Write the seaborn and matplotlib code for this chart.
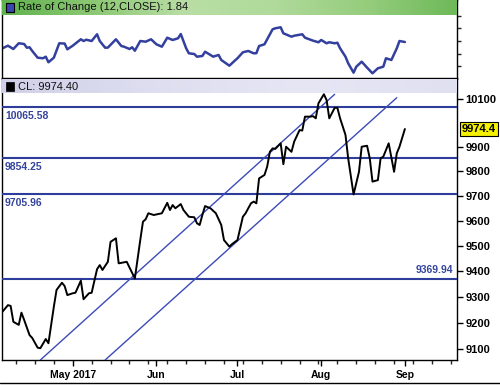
import numpy as np
import pandas as pd
import matplotlib
matplotlib.use("Agg")
import matplotlib.pyplot as plt
import matplotlib.dates as mdates
import matplotlib.transforms as mtransforms
from matplotlib.patches import Rectangle
from matplotlib.lines import Line2D
from matplotlib.ticker import FixedLocator, FixedFormatter, NullLocator
import seaborn as sns

# ---------------- data ----------------
base_date = "2017-05-01"
price_offsets = [-26, -24, -23, -22, -20, -19, -18, -16, -15, -13, -12, -10, -9, -7, -6, -4, -3, -2,
                 0, 1, 3, 4, 6, 7, 9, 10, 11, 13, 14, 16, 17, 20, 21, 23, 25, 26, 27, 28, 30, 33,
                 35, 36, 37, 38, 40, 41, 43, 45, 46, 47, 48, 49, 51, 53, 55, 56, 58, 59, 61, 63,
                 64, 66, 67, 68, 69, 71, 72, 73, 74, 75, 77, 78, 79, 81, 82, 84, 85, 86, 88, 89,
                 90, 91, 93, 94, 95, 97, 98, 99, 101, 102, 104, 106, 107, 109, 110, 111, 113, 114,
                 115, 117, 119, 120, 121, 123]
price_values = [9243, 9268, 9265, 9204, 9192, 9239, 9211, 9153, 9142, 9105, 9103, 9138, 9122, 9262,
                9327, 9355, 9342, 9307,
                9314, 9316, 9363, 9291, 9314, 9316, 9408, 9424, 9405, 9437, 9516, 9530, 9431, 9437,
                9415, 9372, 9523, 9596, 9606, 9630, 9623, 9630,
                9672, 9643, 9663, 9650, 9667, 9643, 9616, 9614, 9590, 9583, 9623, 9659, 9650, 9630,
                9583, 9523, 9497, 9507, 9523, 9616,
                9630, 9670, 9677, 9670, 9771, 9785, 9819, 9880, 9894, 9892, 9915, 9829, 9901, 9880,
                9922, 9970, 9968, 10026, 10026, 10028,
                10019, 10082, 10120, 10096, 10019, 10063, 10063, 10019, 9950, 9853, 9706, 9798, 9901,
                9905, 9853, 9758, 9764, 9853,
                9860, 9915, 9798, 9874, 9901, 9974.4]

roc_offsets = [-26, -24, -22, -20, -18, -17, -16, -15, -13, -11, -10, -9, -7, -5, -3, -2, 0, 3, 4, 5,
               7, 9, 10, 12, 13, 16, 18, 19, 21, 22, 23, 25, 27, 29, 31, 33, 35, 37, 39, 40, 42, 43,
               45, 46, 48, 49, 51, 52, 54, 55, 58, 60, 61, 63, 65, 67, 68, 69, 71, 74, 75, 77, 78,
               81, 82, 85, 86, 89, 91, 92, 94, 95, 97, 98, 99, 101, 102, 104, 105, 107, 109, 111,
               113, 115, 116, 118, 120, 121, 123]
roc_values = [0.85, 1.26, 0.74, 1.64, 1.53, 0.94, 1.01, 0.43, -0.63, -0.72, -0.47, -1.35, -0.63, 1.64,
              1.60, 0.69, 1.26, 2.27, 2.00, 2.20,
              2.00, 3.06, 2.00, 0.94, 0.96, 2.27, 1.21, 1.10, 0.74, 1.01, 0.47, 2.00, 1.89, 2.27,
              1.48, 1.10, 2.52, 2.16, 2.43, 3.10, 0.85, 0.06,
              -0.05, -0.47, -0.36, 0.31, -0.20, -0.47, -0.20, -0.99, -1.89, -1.10, -0.72, 0.22,
              0.43, 0.06, 0.08, 1.21, 1.48, 3.84, 4.00, 4.16, 3.21,
              2.68, 2.83, 3.06, 2.52, 2.05, 1.80, 2.16, 1.64, 1.80, 1.64, 1.73, 0.85, -0.47, -1.51,
              -2.99, -2.05, -1.26, -2.20, -3.09,
              -2.30, -2.05, -0.72, -0.99, 0.85, 2.00, 1.84]

level_values = [10065.58, 9854.25, 9705.96, 9369.94]
level_labels = ["10065.58", "9854.25", "9705.96", "9369.94"]

trend_dates = [("2017-04-19", "2017-08-06"), ("2017-05-13", "2017-08-29")]
trend_prices = [(9058.4, 10119.8), (9058.4, 10105.5)]

price_ticks = [9100, 9200, 9300, 9400, 9500, 9600, 9700, 9800, 9900, 10100]
price_tick_labels = ["9100", "9200", "9300", "9400", "9500", "9600", "9700", "9800", "9900", "10100"]
roc_ticks = [-2, 0, 2, 4, 6]
month_dates = ["2017-05-01", "2017-06-01", "2017-07-01", "2017-08-01", "2017-09-01"]
month_labels = ["May 2017", "Jun", "Jul", "Aug", "Sep"]

last_close = 9974.4
roc_title = "Rate of Change (12,CLOSE): 1.84"
price_title = "CL: 9974.40"

# ---------------- style ----------------
sns.set_style("white")
plt.rcParams["font.family"] = ["Liberation Sans", "DejaVu Sans"]

base = pd.Timestamp(base_date)
price_dates = base + pd.to_timedelta(price_offsets, unit="D")
roc_dates = base + pd.to_timedelta(roc_offsets, unit="D")
df_price = pd.DataFrame({"date": price_dates, "close": price_values})
df_roc = pd.DataFrame({"date": roc_dates, "roc": roc_values})

LEVEL_C = "#2e3c9c"
TREND_C = "#3b4bb8"
ROC_C = "#33409e"
LABEL_C = "#34449c"

W_PX, H_PX = 500, 385
fig = plt.figure(figsize=(W_PX / 100, H_PX / 100), dpi=100)
fig.patch.set_facecolor("white")

L = 2 / W_PX
W = 455 / W_PX
ax_roc = fig.add_axes([L, 1 - 78 / H_PX, W, 78 / H_PX])
ax = fig.add_axes([L, 1 - 360 / H_PX, W, 281 / H_PX])

x0 = mdates.date2num(base) - 26.2
x1 = mdates.date2num(base) + 142.3

# ---------------- ROC panel ----------------
sns.lineplot(data=df_roc, x="date", y="roc", ax=ax_roc, color=ROC_C, lw=1.8, legend=False)
green = np.array([[96, 178, 78], [140, 200, 115], [185, 222, 165], [175, 218, 155], [150, 205, 125],
                  [110, 185, 90]]) / 255.0
gx = np.linspace(0, 1, 256)
grad = np.stack([np.interp(gx, np.linspace(0, 1, len(green)), green[:, i]) for i in range(3)], axis=-1)
ax_roc.imshow(grad[None, :, :], extent=[0, 1, 1 - 15 / 78, 1], transform=ax_roc.transAxes,
              aspect="auto", zorder=3, interpolation="bilinear")
ax_roc.add_patch(Rectangle((4 / 455, 1 - 12 / 78), 8 / 455, 9 / 78, transform=ax_roc.transAxes,
                           facecolor="#3c46b0", edgecolor="black", lw=0.8, zorder=4))
ax_roc.text(16 / 455, 1 - 7.5 / 78, roc_title, transform=ax_roc.transAxes, fontsize=8,
            va="center", ha="left", color="#111111", zorder=5)
ax_roc.set_xlim(x0, x1)
ax_roc.set_ylim(-3.83, 8.46)
ax_roc.yaxis.tick_right()
ax_roc.yaxis.set_major_locator(FixedLocator(roc_ticks))
ax_roc.tick_params(axis="y", which="both", direction="out", length=3, width=1, right=True,
                   left=False, labelright=False, labelleft=False)
ax_roc.set_xticks([])
ax_roc.set_xlabel("")
ax_roc.set_ylabel("")
for s in ax_roc.spines.values():
    s.set_color("black")
    s.set_linewidth(1)

# ---------------- price panel ----------------
sns.lineplot(data=df_price, x="date", y="close", ax=ax, color="black", lw=1.4, legend=False, zorder=4)
ax.set_yscale("log")

blend = mtransforms.blended_transform_factory(ax.transAxes, ax.transData)
for v, lab in zip(level_values, level_labels):
    ax.axhline(v, color=LEVEL_C, lw=1.5, zorder=3)
for v, lab in zip(level_values[:3], level_labels[:3]):
    ax.annotate(lab, xy=(3 / 455, v), xycoords=blend, xytext=(0, -2.5), textcoords="offset points",
                ha="left", va="top", fontsize=7.5, fontweight="bold", color=LABEL_C)
ax.annotate(level_labels[3], xy=(451 / 455, level_values[3]), xycoords=blend, xytext=(0, 2.5),
            textcoords="offset points", ha="right", va="bottom", fontsize=7.5, fontweight="bold",
            color=LABEL_C)

for (d0, d1), (p0, p1) in zip(trend_dates, trend_prices):
    ax.plot([pd.Timestamp(d0), pd.Timestamp(d1)], [p0, p1], color=TREND_C, lw=1.0, zorder=3)

lav = np.array([[208, 208, 232], [222, 222, 240], [230, 230, 245], [224, 224, 241]]) / 255.0
lgrad = np.stack([np.interp(gx, np.linspace(0, 1, len(lav)), lav[:, i]) for i in range(3)], axis=-1)
ax.imshow(lgrad[None, :, :], extent=[0, 1, 1 - 14 / 281, 1], transform=ax.transAxes,
          aspect="auto", zorder=5, interpolation="bilinear")
ax.add_patch(Rectangle((4 / 455, 1 - 12 / 281), 8 / 455, 9 / 281, transform=ax.transAxes,
                       facecolor="black", edgecolor="black", lw=0.5, zorder=6))
ax.text(16 / 455, 1 - 7.5 / 281, price_title, transform=ax.transAxes, fontsize=8,
        va="center", ha="left", color="#111111", zorder=6)

ax.set_xlim(x0, x1)
ax.set_ylim(9058.4, 10184.6)
ax.yaxis.tick_right()
ax.yaxis.set_major_locator(FixedLocator(price_ticks))
ax.yaxis.set_major_formatter(FixedFormatter(price_tick_labels))
ax.yaxis.set_minor_locator(NullLocator())
ax.tick_params(axis="y", which="both", direction="out", length=4, width=1, right=True, left=False,
               labelright=True, labelleft=False, labelsize=8, pad=2, colors="black")
for t in ax.get_yticklabels():
    t.set_fontweight("bold")

ax.xaxis.set_major_locator(FixedLocator(mdates.date2num(pd.to_datetime(month_dates))))
ax.xaxis.set_major_formatter(FixedFormatter(month_labels))
ax.xaxis.set_minor_locator(mdates.WeekdayLocator(byweekday=mdates.MO))
ax.tick_params(axis="x", which="major", direction="out", length=4, width=1, bottom=True,
               labelsize=7.5, pad=3, colors="black")
ax.tick_params(axis="x", which="minor", direction="out", length=3, width=1, bottom=True)
for t in ax.get_xticklabels():
    t.set_fontweight("bold")
ax.set_xlabel("")
ax.set_ylabel("")
for s in ax.spines.values():
    s.set_color("black")
    s.set_linewidth(1)

ax.text(1 + 5 / 455, last_close, f"{last_close:.1f}", transform=blend, ha="left", va="center",
        fontsize=8, fontweight="bold", color="black", clip_on=False, zorder=10,
        bbox=dict(boxstyle="square,pad=0.15", fc="#f4f000", ec="black", lw=0.8))

fig.add_artist(Line2D([0, 1], [1 - 383 / H_PX] * 2, color="black", lw=1))

fig.savefig("out.png", dpi=100)
